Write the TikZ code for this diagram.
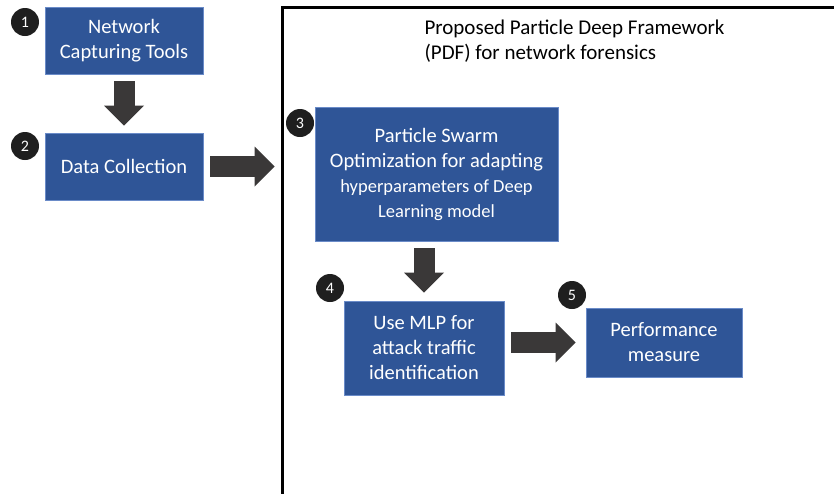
\documentclass[tikz,border=0pt]{standalone}
\usepackage{fontspec}
\setmainfont{Carlito}
\usetikzlibrary{arrows.meta}
\definecolor{boxblue}{HTML}{2F5597}
\definecolor{boxedge}{HTML}{6A8BC8}
\definecolor{arrowgray}{HTML}{3A3838}
\begin{document}
\begin{tikzpicture}[x=1pt,y=-1pt]
    \tikzstyle{stage}=[rectangle, draw=boxedge, line width=0.6pt, fill=boxblue,
                       text=white, align=center, inner sep=0pt,
                       font=\fontsize{20.5}{25}\selectfont]
    \tikzstyle{num}=[circle, fill=black!88, text=white, inner sep=0pt,
                     minimum size=28pt, font=\fontsize{16}{16}\selectfont]
    \tikzstyle{flow}=[draw=arrowgray, line width=21pt,
                      -{Triangle[length=20pt, width=40pt, line width=0pt]}]
    \useasboundingbox (0,0) rectangle (834,493);
    \fill[white] (0,0) rectangle (834,493);
    \draw[line width=3pt] (282,500) -- (282,7) -- (840,7);

    \node[anchor=west, align=left, font=\fontsize{21}{25}\selectfont] (title) at (421,41.5)
        {Proposed Particle Deep Framework\\(PDF) for network forensics};

    \node[stage, minimum width=158pt, minimum height=67pt] (capture) at (124,40.5) {Network\\Capturing Tools};
    \node[stage, minimum width=158pt, minimum height=67pt] (collect) at (124,166.5) {Data Collection};
    \node[stage, minimum width=243pt, minimum height=134pt] (pso) at (436.5,174)
        {Particle Swarm\\Optimization for adapting\\{\fontsize{18.5}{21}\selectfont hyperparameters of Deep}\\{\fontsize{18.5}{21}\selectfont Learning model}};
    \node[stage, minimum width=160pt, minimum height=94pt] (mlp) at (424,348) {Use MLP for\\attack traffic\\identification};
    \node[stage, minimum width=156pt, minimum height=69pt] (perf) at (664,342.5) {Performance\\measure};

    \node[num] (n1) at (25,22) {1};
    \node[num] (n2) at (25,146) {2};
    \node[num] (n3) at (300,123) {3};
    \node[num] (n4) at (330,288) {4};
    \node[num] (n5) at (572,295) {5};

    \draw[flow, shorten <=7pt, shorten >=7pt] (capture) -- (collect);
    \draw[flow, shorten <=7pt, shorten >=40pt] (collect.east) -- (collect.east -| pso.west);
    \draw[flow, shorten <=7pt, shorten >=8pt] (pso.south -| mlp.north) -- (mlp.north);
    \draw[flow, shorten <=7pt, shorten >=10pt] (mlp.east |- perf.west) -- (perf.west);
\end{tikzpicture}
\end{document}
